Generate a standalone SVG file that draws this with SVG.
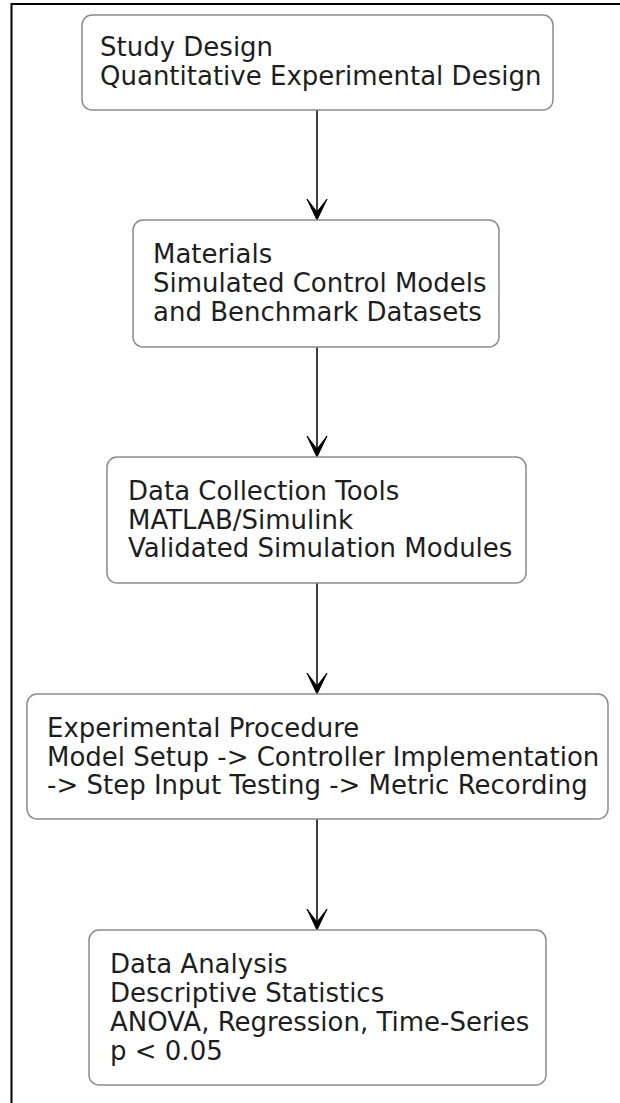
<svg xmlns="http://www.w3.org/2000/svg" width="620" height="1103" viewBox="0 0 620 1103">
  <defs>
    <style>
      .node rect { fill: #ffffff; stroke: #8c8c8c; stroke-width: 1.5; }
      .node text { font-family: "DejaVu Sans", "Liberation Sans", sans-serif; font-size: 26px; fill: #1e1e1e; }
      .edge line { stroke: #000000; stroke-width: 1.5; }
      .edge path { fill: #000000; stroke: #000000; stroke-width: 1; stroke-linejoin: miter; }
      .frame { stroke: #000000; stroke-width: 2; fill: none; }
    </style>
  </defs>

  <rect x="0" y="0" width="620" height="1103" fill="#ffffff"/>

  <!-- outer frame (top and left edges) -->
  <path class="frame" d="M11.5,1103 V4 H620"/>

  <!-- connectors -->
  <g id="connectors" class="edge">
    <line x1="317" y1="110" x2="317" y2="216"/>
    <path d="M317,220 L307,199 L317,212 L327,199 Z"/>

    <line x1="317" y1="347" x2="317" y2="453"/>
    <path d="M317,457 L307,436 L317,449 L327,436 Z"/>

    <line x1="317" y1="583" x2="317" y2="690"/>
    <path d="M317,694 L307,673 L317,686 L327,673 Z"/>

    <line x1="317" y1="819" x2="317" y2="926"/>
    <path d="M317,930 L307,909 L317,922 L327,909 Z"/>
  </g>

  <g id="study-design" class="node">
    <rect x="82" y="15" width="471" height="95" rx="10" ry="10"/>
    <text x="100" y="56">Study Design</text>
    <text x="100" y="85">Quantitative Experimental Design</text>
  </g>

  <g id="materials" class="node">
    <rect x="133" y="220" width="366" height="127" rx="10" ry="10"/>
    <text x="153" y="263">Materials</text>
    <text x="153" y="292">Simulated Control Models</text>
    <text x="153" y="321">and Benchmark Datasets</text>
  </g>

  <g id="data-collection-tools" class="node">
    <rect x="107" y="457" width="419" height="126" rx="10" ry="10"/>
    <text x="128" y="500">Data Collection Tools</text>
    <text x="128" y="529">MATLAB/Simulink</text>
    <text x="128" y="557">Validated Simulation Modules</text>
  </g>

  <g id="experimental-procedure" class="node">
    <rect x="27" y="694" width="581" height="125" rx="10" ry="10"/>
    <text x="47" y="737">Experimental Procedure</text>
    <text x="47" y="766">Model Setup -&gt; Controller Implementation</text>
    <text x="47" y="794">-&gt; Step Input Testing -&gt; Metric Recording</text>
  </g>

  <g id="data-analysis" class="node">
    <rect x="89" y="930" width="457" height="155" rx="10" ry="10"/>
    <text x="110" y="973">Data Analysis</text>
    <text x="110" y="1002">Descriptive Statistics</text>
    <text x="110" y="1031">ANOVA, Regression, Time-Series</text>
    <text x="110" y="1060">p &lt; 0.05</text>
  </g>
</svg>
